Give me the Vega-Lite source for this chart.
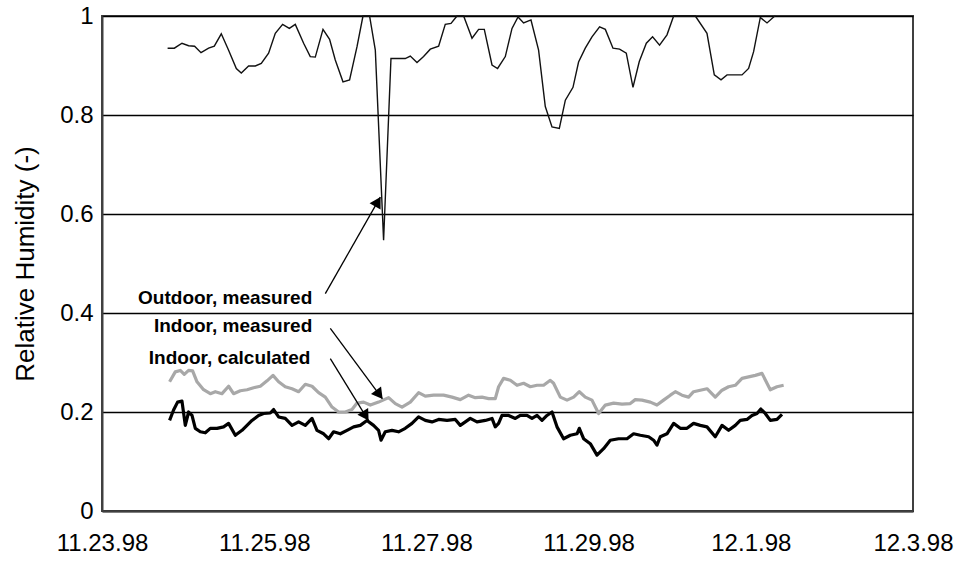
{
  "$schema": "https://vega.github.io/schema/vega-lite/v6.json",
  "width": 811,
  "height": 495,
  "autosize": {"type": "none"},
  "padding": {"left": 102, "top": 16, "right": 57, "bottom": 50},
  "background": "white",
  "config": {
    "font": "Liberation Sans",
    "view": {"stroke": "#404040", "strokeWidth": 2},
    "axis": {"labelColor": "black", "titleColor": "black", "labelFont": "Liberation Sans", "titleFont": "Liberation Sans"}
  },
  "datasets": {
    "outdoor": [
      {"t":"1998-11-23T19:25","rh":0.935},{"t":"1998-11-23T21:24","rh":0.935},{"t":"1998-11-23T23:40","rh":0.945},
      {"t":"1998-11-24T01:38","rh":0.940},{"t":"1998-11-24T03:24","rh":0.939},{"t":"1998-11-24T05:18","rh":0.926},
      {"t":"1998-11-24T07:33","rh":0.935},{"t":"1998-11-24T09:14","rh":0.939},{"t":"1998-11-24T11:18","rh":0.964},
      {"t":"1998-11-24T13:28","rh":0.931},{"t":"1998-11-24T15:45","rh":0.894},{"t":"1998-11-24T17:13","rh":0.885},
      {"t":"1998-11-24T19:23","rh":0.899},{"t":"1998-11-24T21:22","rh":0.899},{"t":"1998-11-24T23:08","rh":0.904},
      {"t":"1998-11-25T01:18","rh":0.925},{"t":"1998-11-25T03:17","rh":0.965},{"t":"1998-11-25T05:27","rh":0.983},
      {"t":"1998-11-25T07:26","rh":0.975},{"t":"1998-11-25T09:12","rh":0.983},{"t":"1998-11-25T11:40","rh":0.945},
      {"t":"1998-11-25T13:38","rh":0.918},{"t":"1998-11-25T15:07","rh":0.917},{"t":"1998-11-25T17:24","rh":0.973},
      {"t":"1998-11-25T19:21","rh":0.953},{"t":"1998-11-25T21:02","rh":0.911},{"t":"1998-11-25T23:19","rh":0.867},
      {"t":"1998-11-26T01:16","rh":0.871},{"t":"1998-11-26T03:28","rh":0.938},{"t":"1998-11-26T05:14","rh":1.0},
      {"t":"1998-11-26T07:11","rh":1.0},{"t":"1998-11-26T08:53","rh":0.931},{"t":"1998-11-26T11:20","rh":0.547},
      {"t":"1998-11-26T13:31","rh":0.914},{"t":"1998-11-26T17:45","rh":0.914},{"t":"1998-11-26T19:14","rh":0.919},
      {"t":"1998-11-26T21:13","rh":0.906},{"t":"1998-11-26T23:10","rh":0.918},{"t":"1998-11-27T01:09","rh":0.933},
      {"t":"1998-11-27T03:37","rh":0.939},{"t":"1998-11-27T05:35","rh":0.983},{"t":"1998-11-27T07:17","rh":0.985},
      {"t":"1998-11-27T09:03","rh":1.0},{"t":"1998-11-27T11:01","rh":1.0},{"t":"1998-11-27T13:30","rh":0.955},
      {"t":"1998-11-27T15:27","rh":0.973},{"t":"1998-11-27T17:08","rh":0.973},{"t":"1998-11-27T19:25","rh":0.901},
      {"t":"1998-11-27T21:04","rh":0.894},{"t":"1998-11-27T23:21","rh":0.918},{"t":"1998-11-28T01:20","rh":0.975},
      {"t":"1998-11-28T03:07","rh":0.998},{"t":"1998-11-28T04:46","rh":0.986},{"t":"1998-11-28T06:57","rh":0.992},
      {"t":"1998-11-28T09:12","rh":0.931},{"t":"1998-11-28T11:11","rh":0.817},{"t":"1998-11-28T13:10","rh":0.776},
      {"t":"1998-11-28T15:20","rh":0.773},{"t":"1998-11-28T17:07","rh":0.830},{"t":"1998-11-28T19:23","rh":0.856},
      {"t":"1998-11-28T21:02","rh":0.907},{"t":"1998-11-28T23:01","rh":0.935},{"t":"1998-11-29T01:00","rh":0.958},
      {"t":"1998-11-29T03:15","rh":0.978},{"t":"1998-11-29T04:57","rh":0.973},{"t":"1998-11-29T07:13","rh":0.935},
      {"t":"1998-11-29T09:10","rh":0.933},{"t":"1998-11-29T11:09","rh":0.925},{"t":"1998-11-29T13:08","rh":0.856},
      {"t":"1998-11-29T15:00","rh":0.908},{"t":"1998-11-29T17:05","rh":0.945},{"t":"1998-11-29T18:56","rh":0.958},
      {"t":"1998-11-29T21:00","rh":0.941},{"t":"1998-11-29T23:12","rh":0.962},{"t":"1998-11-30T01:10","rh":1.0},
      {"t":"1998-11-30T07:35","rh":1.0},{"t":"1998-11-30T11:02","rh":0.965},{"t":"1998-11-30T13:12","rh":0.881},
      {"t":"1998-11-30T15:11","rh":0.871},{"t":"1998-11-30T16:58","rh":0.881},{"t":"1998-11-30T21:24","rh":0.881},
      {"t":"1998-11-30T23:21","rh":0.894},{"t":"1998-12-01T00:50","rh":0.928},{"t":"1998-12-01T02:49","rh":0.997},
      {"t":"1998-12-01T04:48","rh":0.986},{"t":"1998-12-01T06:45","rh":0.998},{"t":"1998-12-01T07:15","rh":1.0}
    ],
    "indoorMeasured": [
      {"t":"1998-11-23T20:00","rh":0.261},{"t":"1998-11-23T21:41","rh":0.281},{"t":"1998-11-23T23:10","rh":0.284},
      {"t":"1998-11-24T00:21","rh":0.276},{"t":"1998-11-24T01:38","rh":0.284},{"t":"1998-11-24T02:49","rh":0.283},
      {"t":"1998-11-24T04:07","rh":0.261},{"t":"1998-11-24T06:04","rh":0.245},{"t":"1998-11-24T08:03","rh":0.237},
      {"t":"1998-11-24T09:32","rh":0.241},{"t":"1998-11-24T11:31","rh":0.237},{"t":"1998-11-24T13:28","rh":0.252},
      {"t":"1998-11-24T14:56","rh":0.237},{"t":"1998-11-24T16:56","rh":0.243},{"t":"1998-11-24T18:55","rh":0.245},
      {"t":"1998-11-24T20:52","rh":0.249},{"t":"1998-11-24T22:51","rh":0.252},{"t":"1998-11-25T00:50","rh":0.263},
      {"t":"1998-11-25T02:36","rh":0.274},{"t":"1998-11-25T04:16","rh":0.261},{"t":"1998-11-25T06:14","rh":0.251},
      {"t":"1998-11-25T08:14","rh":0.247},{"t":"1998-11-25T10:11","rh":0.241},{"t":"1998-11-25T12:10","rh":0.256},
      {"t":"1998-11-25T14:09","rh":0.252},{"t":"1998-11-25T16:06","rh":0.239},{"t":"1998-11-25T18:05","rh":0.230},
      {"t":"1998-11-25T20:04","rh":0.210},{"t":"1998-11-25T22:01","rh":0.200},{"t":"1998-11-26T00:00","rh":0.200},
      {"t":"1998-11-26T01:59","rh":0.205},{"t":"1998-11-26T03:28","rh":0.218},{"t":"1998-11-26T05:25","rh":0.220},
      {"t":"1998-11-26T07:24","rh":0.214},{"t":"1998-11-26T09:51","rh":0.220},{"t":"1998-11-26T12:49","rh":0.229},
      {"t":"1998-11-26T14:48","rh":0.217},{"t":"1998-11-26T16:47","rh":0.210},{"t":"1998-11-26T19:14","rh":0.220},
      {"t":"1998-11-26T21:41","rh":0.239},{"t":"1998-11-26T23:40","rh":0.232},{"t":"1998-11-27T02:08","rh":0.234},
      {"t":"1998-11-27T05:05","rh":0.234},{"t":"1998-11-27T07:35","rh":0.230},{"t":"1998-11-27T10:02","rh":0.225},
      {"t":"1998-11-27T12:29","rh":0.234},{"t":"1998-11-27T14:28","rh":0.229},{"t":"1998-11-27T16:27","rh":0.230},
      {"t":"1998-11-27T18:25","rh":0.227},{"t":"1998-11-27T20:23","rh":0.227},{"t":"1998-11-27T21:22","rh":0.251},
      {"t":"1998-11-27T22:50","rh":0.268},{"t":"1998-11-28T00:50","rh":0.264},{"t":"1998-11-28T02:49","rh":0.254},
      {"t":"1998-11-28T04:46","rh":0.258},{"t":"1998-11-28T06:45","rh":0.251},{"t":"1998-11-28T08:44","rh":0.254},
      {"t":"1998-11-28T10:41","rh":0.254},{"t":"1998-11-28T12:40","rh":0.264},{"t":"1998-11-28T13:38","rh":0.258},
      {"t":"1998-11-28T15:38","rh":0.230},{"t":"1998-11-28T17:37","rh":0.224},{"t":"1998-11-28T19:34","rh":0.230},
      {"t":"1998-11-28T21:15","rh":0.241},{"t":"1998-11-28T23:01","rh":0.230},{"t":"1998-11-29T01:00","rh":0.224},
      {"t":"1998-11-29T02:58","rh":0.197},{"t":"1998-11-29T04:57","rh":0.214},{"t":"1998-11-29T07:24","rh":0.218},
      {"t":"1998-11-29T09:53","rh":0.216},{"t":"1998-11-29T12:20","rh":0.217},{"t":"1998-11-29T13:49","rh":0.225},
      {"t":"1998-11-29T15:48","rh":0.224},{"t":"1998-11-29T18:16","rh":0.220},{"t":"1998-11-29T20:14","rh":0.214},
      {"t":"1998-11-29T22:11","rh":0.224},{"t":"1998-11-30T00:11","rh":0.234},{"t":"1998-11-30T01:40","rh":0.241},
      {"t":"1998-11-30T03:38","rh":0.234},{"t":"1998-11-30T05:35","rh":0.230},{"t":"1998-11-30T07:04","rh":0.241},
      {"t":"1998-11-30T09:03","rh":0.244},{"t":"1998-11-30T11:02","rh":0.247},{"t":"1998-11-30T13:29","rh":0.230},
      {"t":"1998-11-30T15:29","rh":0.244},{"t":"1998-11-30T17:26","rh":0.251},{"t":"1998-11-30T19:25","rh":0.254},
      {"t":"1998-11-30T21:24","rh":0.268},{"t":"1998-11-30T23:21","rh":0.271},{"t":"1998-12-01T01:20","rh":0.274},
      {"t":"1998-12-01T03:19","rh":0.278},{"t":"1998-12-01T05:46","rh":0.245},{"t":"1998-12-01T07:45","rh":0.251},
      {"t":"1998-12-01T09:43","rh":0.254}
    ],
    "indoorCalculated": [
      {"t":"1998-11-23T20:00","rh":0.183},{"t":"1998-11-23T21:11","rh":0.204},{"t":"1998-11-23T22:22","rh":0.220},
      {"t":"1998-11-23T23:40","rh":0.222},{"t":"1998-11-24T00:39","rh":0.173},{"t":"1998-11-24T01:38","rh":0.200},
      {"t":"1998-11-24T02:38","rh":0.193},{"t":"1998-11-24T03:37","rh":0.167},{"t":"1998-11-24T05:05","rh":0.160},
      {"t":"1998-11-24T06:34","rh":0.158},{"t":"1998-11-24T08:03","rh":0.167},{"t":"1998-11-24T10:02","rh":0.167},
      {"t":"1998-11-24T11:59","rh":0.170},{"t":"1998-11-24T13:28","rh":0.177},{"t":"1998-11-24T15:27","rh":0.153},
      {"t":"1998-11-24T17:26","rh":0.163},{"t":"1998-11-24T18:55","rh":0.173},{"t":"1998-11-24T20:23","rh":0.183},
      {"t":"1998-11-24T22:20","rh":0.193},{"t":"1998-11-24T23:49","rh":0.197},{"t":"1998-11-25T01:48","rh":0.198},
      {"t":"1998-11-25T02:47","rh":0.205},{"t":"1998-11-25T04:16","rh":0.190},{"t":"1998-11-25T06:14","rh":0.187},
      {"t":"1998-11-25T08:14","rh":0.173},{"t":"1998-11-25T10:11","rh":0.180},{"t":"1998-11-25T12:10","rh":0.173},
      {"t":"1998-11-25T14:09","rh":0.187},{"t":"1998-11-25T15:37","rh":0.163},{"t":"1998-11-25T17:35","rh":0.156},
      {"t":"1998-11-25T19:04","rh":0.146},{"t":"1998-11-25T20:32","rh":0.160},{"t":"1998-11-25T22:31","rh":0.156},
      {"t":"1998-11-26T00:30","rh":0.163},{"t":"1998-11-26T02:28","rh":0.170},{"t":"1998-11-26T04:26","rh":0.173},
      {"t":"1998-11-26T06:25","rh":0.183},{"t":"1998-11-26T08:22","rh":0.173},{"t":"1998-11-26T09:51","rh":0.163},
      {"t":"1998-11-26T10:34","rh":0.143},{"t":"1998-11-26T11:50","rh":0.160},{"t":"1998-11-26T13:49","rh":0.163},
      {"t":"1998-11-26T15:46","rh":0.160},{"t":"1998-11-26T17:45","rh":0.167},{"t":"1998-11-26T19:44","rh":0.177},
      {"t":"1998-11-26T21:41","rh":0.190},{"t":"1998-11-26T23:40","rh":0.183},{"t":"1998-11-27T01:39","rh":0.180},
      {"t":"1998-11-27T03:37","rh":0.185},{"t":"1998-11-27T06:06","rh":0.183},{"t":"1998-11-27T08:33","rh":0.185},
      {"t":"1998-11-27T10:02","rh":0.173},{"t":"1998-11-27T11:31","rh":0.180},{"t":"1998-11-27T12:59","rh":0.187},
      {"t":"1998-11-27T14:58","rh":0.180},{"t":"1998-11-27T17:26","rh":0.183},{"t":"1998-11-27T19:25","rh":0.187},
      {"t":"1998-11-27T20:23","rh":0.170},{"t":"1998-11-27T21:22","rh":0.177},{"t":"1998-11-27T22:22","rh":0.193},
      {"t":"1998-11-28T00:20","rh":0.193},{"t":"1998-11-28T02:19","rh":0.187},{"t":"1998-11-28T03:47","rh":0.193},
      {"t":"1998-11-28T05:46","rh":0.193},{"t":"1998-11-28T07:15","rh":0.187},{"t":"1998-11-28T08:44","rh":0.193},
      {"t":"1998-11-28T10:13","rh":0.183},{"t":"1998-11-28T11:41","rh":0.193},{"t":"1998-11-28T13:10","rh":0.200},
      {"t":"1998-11-28T14:39","rh":0.170},{"t":"1998-11-28T16:36","rh":0.146},{"t":"1998-11-28T18:35","rh":0.153},
      {"t":"1998-11-28T20:34","rh":0.156},{"t":"1998-11-28T21:15","rh":0.167},{"t":"1998-11-28T22:31","rh":0.146},
      {"t":"1998-11-29T00:30","rh":0.136},{"t":"1998-11-29T02:29","rh":0.113},{"t":"1998-11-29T04:26","rh":0.126},
      {"t":"1998-11-29T06:25","rh":0.143},{"t":"1998-11-29T08:53","rh":0.146},{"t":"1998-11-29T11:22","rh":0.146},
      {"t":"1998-11-29T13:19","rh":0.156},{"t":"1998-11-29T15:18","rh":0.153},{"t":"1998-11-29T17:46","rh":0.150},
      {"t":"1998-11-29T19:14","rh":0.143},{"t":"1998-11-29T20:14","rh":0.133},{"t":"1998-11-29T21:13","rh":0.150},
      {"t":"1998-11-29T23:12","rh":0.156},{"t":"1998-11-30T01:10","rh":0.177},{"t":"1998-11-30T03:08","rh":0.167},
      {"t":"1998-11-30T05:07","rh":0.167},{"t":"1998-11-30T07:04","rh":0.177},{"t":"1998-11-30T09:03","rh":0.173},
      {"t":"1998-11-30T11:02","rh":0.170},{"t":"1998-11-30T13:29","rh":0.150},{"t":"1998-11-30T15:29","rh":0.173},
      {"t":"1998-11-30T17:26","rh":0.163},{"t":"1998-11-30T19:25","rh":0.173},{"t":"1998-11-30T20:53","rh":0.183},
      {"t":"1998-11-30T22:52","rh":0.185},{"t":"1998-12-01T00:21","rh":0.193},{"t":"1998-12-01T01:50","rh":0.197},
      {"t":"1998-12-01T02:58","rh":0.206},{"t":"1998-12-01T04:17","rh":0.197},{"t":"1998-12-01T05:46","rh":0.183},
      {"t":"1998-12-01T07:45","rh":0.185},{"t":"1998-12-01T09:14","rh":0.195}
    ],
    "notes": [
      {"label":"Outdoor, measured","tl":"1998-11-25T14:14","vl":0.430,"t0":"1998-11-25T18:05","v0":0.439,"t1":"1998-11-26T10:21","v1":0.634,"th":"1998-11-26T09:37","vh":0.625},
      {"label":"Indoor, measured","tl":"1998-11-25T14:14","vl":0.373,"t0":"1998-11-25T19:34","v0":0.369,"t1":"1998-11-26T10:57","v1":0.227,"th":"1998-11-26T10:04","vh":0.235},
      {"label":"Indoor, calculated","tl":"1998-11-25T13:40","vl":0.310,"t0":"1998-11-25T19:34","v0":0.308,"t1":"1998-11-26T06:48","v1":0.183,"th":"1998-11-26T06:02","vh":0.192}
    ]
  },
  "layer": [
    {
      "data": {"name": "indoorMeasured"},
      "mark": {"type": "line", "color": "#a8a8a8", "strokeWidth": 3.2, "strokeJoin": "round"},
      "encoding": {
        "x": {
          "field": "t", "type": "temporal", "title": null,
          "scale": {"domain": [{"year": 1998, "month": 11, "date": 23}, {"year": 1998, "month": 12, "date": 3}]},
          "axis": {
            "values": [
              {"year": 1998, "month": 11, "date": 23}, {"year": 1998, "month": 11, "date": 25},
              {"year": 1998, "month": 11, "date": 27}, {"year": 1998, "month": 11, "date": 29},
              {"year": 1998, "month": 12, "date": 1}, {"year": 1998, "month": 12, "date": 3}
            ],
            "format": "%-m.%-d.%y",
            "grid": false, "ticks": false,
            "domainColor": "#404040", "domainWidth": 2,
            "labelFontSize": 24, "labelPadding": 20, "labelDx": 8,
            "labelFlush": false, "labelOverlap": false, "labelBound": false
          }
        },
        "y": {
          "field": "rh", "type": "quantitative", "title": "Relative Humidity (-)",
          "scale": {"domain": [0, 1], "nice": false, "zero": true},
          "axis": {
            "values": [0, 0.2, 0.4, 0.6, 0.8, 1],
            "format": "~g",
            "grid": true, "gridColor": "black", "gridWidth": 1.3,
            "ticks": false,
            "domainColor": "#404040", "domainWidth": 2,
            "labelFontSize": 24, "labelPadding": 9,
            "labelFlush": false, "labelOverlap": false, "labelBound": false,
            "titleFontSize": 26, "titleFontWeight": "normal", "titlePadding": 21
          }
        }
      }
    },
    {
      "data": {"name": "indoorCalculated"},
      "mark": {"type": "line", "color": "black", "strokeWidth": 3.2, "strokeJoin": "round"},
      "encoding": {
        "x": {"field": "t", "type": "temporal", "title": null},
        "y": {"field": "rh", "type": "quantitative", "title": "Relative Humidity (-)"}
      }
    },
    {
      "data": {"name": "outdoor"},
      "mark": {"type": "line", "color": "#111111", "strokeWidth": 1.4},
      "encoding": {
        "x": {"field": "t", "type": "temporal", "title": null},
        "y": {"field": "rh", "type": "quantitative", "title": "Relative Humidity (-)"}
      }
    },
    {
      "data": {"name": "notes"},
      "mark": {"type": "rule", "color": "black", "strokeWidth": 1.3},
      "encoding": {
        "x": {"field": "t0", "type": "temporal", "title": null},
        "y": {"field": "v0", "type": "quantitative", "title": "Relative Humidity (-)"},
        "x2": {"field": "t1"},
        "y2": {"field": "v1"}
      }
    },
    {
      "data": {"name": "notes"},
      "transform": [{"filter": "datum.label === 'Outdoor, measured'"}],
      "mark": {"type": "point", "shape": "triangle-up", "filled": true, "color": "black", "opacity": 1, "size": 160, "angle": 30},
      "encoding": {
        "x": {"field": "th", "type": "temporal", "title": null},
        "y": {"field": "vh", "type": "quantitative", "title": "Relative Humidity (-)"}
      }
    },
    {
      "data": {"name": "notes"},
      "transform": [{"filter": "datum.label === 'Indoor, measured'"}],
      "mark": {"type": "point", "shape": "triangle-up", "filled": true, "color": "black", "opacity": 1, "size": 160, "angle": 143},
      "encoding": {
        "x": {"field": "th", "type": "temporal", "title": null},
        "y": {"field": "vh", "type": "quantitative", "title": "Relative Humidity (-)"}
      }
    },
    {
      "data": {"name": "notes"},
      "transform": [{"filter": "datum.label === 'Indoor, calculated'"}],
      "mark": {"type": "point", "shape": "triangle-up", "filled": true, "color": "black", "opacity": 1, "size": 160, "angle": 148},
      "encoding": {
        "x": {"field": "th", "type": "temporal", "title": null},
        "y": {"field": "vh", "type": "quantitative", "title": "Relative Humidity (-)"}
      }
    },
    {
      "data": {"name": "notes"},
      "mark": {"type": "text", "align": "right", "baseline": "middle", "fontSize": 19, "fontWeight": "bold", "color": "black", "font": "Liberation Sans"},
      "encoding": {
        "x": {"field": "tl", "type": "temporal", "title": null},
        "y": {"field": "vl", "type": "quantitative", "title": "Relative Humidity (-)"},
        "text": {"field": "label"}
      }
    }
  ]
}
